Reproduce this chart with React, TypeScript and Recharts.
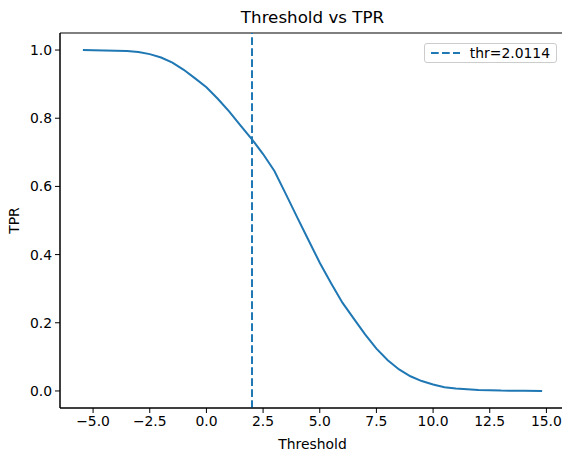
import { LineChart, Line, XAxis, YAxis, ReferenceLine, ReferenceArea, Legend, Label } from 'recharts';

// threshold values (x) and the TPR read at each one
const thresholds = [
  -5.45, -4.5, -4.0, -3.5, -3.0, -2.5, -2.0, -1.5, -1.0, -0.5, 0.0, 0.5, 1.0, 1.5, 2.0, 2.5, 3.0, 3.5,
  4.0, 4.5, 5.0, 5.5, 6.0, 6.5, 7.0, 7.5, 8.0, 8.5, 9.0, 9.5, 10.0, 10.5, 11.0, 11.5, 12.0, 12.5, 13.0,
  14.0, 14.81,
];
const tpr = [
  1.0, 0.999, 0.998, 0.997, 0.994, 0.988, 0.978, 0.963, 0.942, 0.917, 0.891, 0.857, 0.82, 0.779, 0.739,
  0.695, 0.645, 0.578, 0.51, 0.443, 0.376, 0.316, 0.259, 0.212, 0.166, 0.124, 0.09, 0.063, 0.043,
  0.029, 0.019, 0.011, 0.007, 0.005, 0.003, 0.002, 0.001, 0.0005, 0.0,
];
const THRESHOLD = 2.0114;
const xTicks = [-5, -2.5, 0, 2.5, 5, 7.5, 10, 12.5, 15];
const yTicks = [0, 0.2, 0.4, 0.6, 0.8, 1.0];

const X_DOMAIN: [number, number] = [-6.46, 15.82];
const Y_DOMAIN: [number, number] = [-0.05, 1.05];
const BLUE = '#1f77b4';
const FONT = '"DejaVu Sans", sans-serif';

const data = thresholds.map((t, i) => ({ thr: t, tpr: tpr[i] }));

const fmt = (v: number) => v.toFixed(1).replace('-', '\u2212');

const LegendBox = () => (
  <div
    style={{
      border: '1px solid #cccccc',
      borderRadius: 3,
      background: 'rgba(255,255,255,0.8)',
      display: 'flex',
      alignItems: 'center',
      height: 20,
      boxSizing: 'border-box',
      padding: '0 6px',
      fontFamily: FONT,
      fontSize: 13.9,
      color: '#000',
    }}
  >
    <svg width={30} height={10} style={{ marginRight: 10 }}>
      <line x1={0} y1={5} x2={30} y2={5} stroke={BLUE} strokeWidth={2} strokeDasharray="7.7 3.3" />
    </svg>
    <span>{`thr=${THRESHOLD.toFixed(4)}`}</span>
  </div>
);

export default function App() {
  return (
    <div style={{ position: 'absolute', left: 0, top: 0, width: 562, height: 454, overflow: 'hidden', background: '#fff' }}>
      <div
        style={{
          position: 'absolute',
          top: 7,
          left: 60,
          width: 505,
          textAlign: 'center',
          fontFamily: FONT,
          fontSize: 16.7,
          color: '#000',
          lineHeight: '20px',
        }}
      >
        Threshold vs TPR
      </div>
      <LineChart
        width={566}
        height={454}
        data={data}
        margin={{ top: 33, right: 1, bottom: 0, left: 0 }}
        style={{ fontFamily: FONT }}
      >
        <XAxis
          dataKey="thr"
          type="number"
          domain={X_DOMAIN}
          ticks={xTicks}
          tickFormatter={fmt}
          height={46}
          stroke="#000"
          tickSize={5}
          tickMargin={3}
          tick={{ fill: '#000', fontSize: 13.9 }}
        >
          <Label value="Threshold" position="insideBottom" offset={5} style={{ fill: '#000', fontSize: 13.9 }} />
        </XAxis>
        <YAxis
          type="number"
          domain={Y_DOMAIN}
          ticks={yTicks}
          tickFormatter={fmt}
          width={60}
          stroke="#000"
          tickSize={5}
          tickMargin={3}
          tick={{ fill: '#000', fontSize: 13.9 }}
        >
          <Label
            content={({ viewBox }: any) => {
              const cy = viewBox.y + viewBox.height / 2;
              return (
                <text
                  x={19}
                  y={cy}
                  transform={`rotate(-90 19 ${cy})`}
                  textAnchor="middle"
                  fill="#000"
                  fontSize={13.9}
                  fontFamily={FONT}
                >
                  TPR
                </text>
              );
            }}
          />
        </YAxis>
        <ReferenceArea
          x1={X_DOMAIN[0]}
          x2={X_DOMAIN[1]}
          y1={Y_DOMAIN[0]}
          y2={Y_DOMAIN[1]}
          fill="none"
          stroke="#000"
          strokeWidth={1}
        />
        <Line
          type="linear"
          dataKey="tpr"
          stroke={BLUE}
          strokeWidth={2}
          dot={false}
          legendType="none"
          isAnimationActive={false}
        />
        <ReferenceLine x={THRESHOLD} stroke={BLUE} strokeWidth={2} strokeDasharray="7.7 3.3" />
        <Legend
          layout="vertical"
          align="center"
          verticalAlign="middle"
          content={() => <LegendBox />}
          wrapperStyle={{ top: 43, left: 424, width: 133, right: 'auto', bottom: 'auto' }}
        />
      </LineChart>
    </div>
  );
}
